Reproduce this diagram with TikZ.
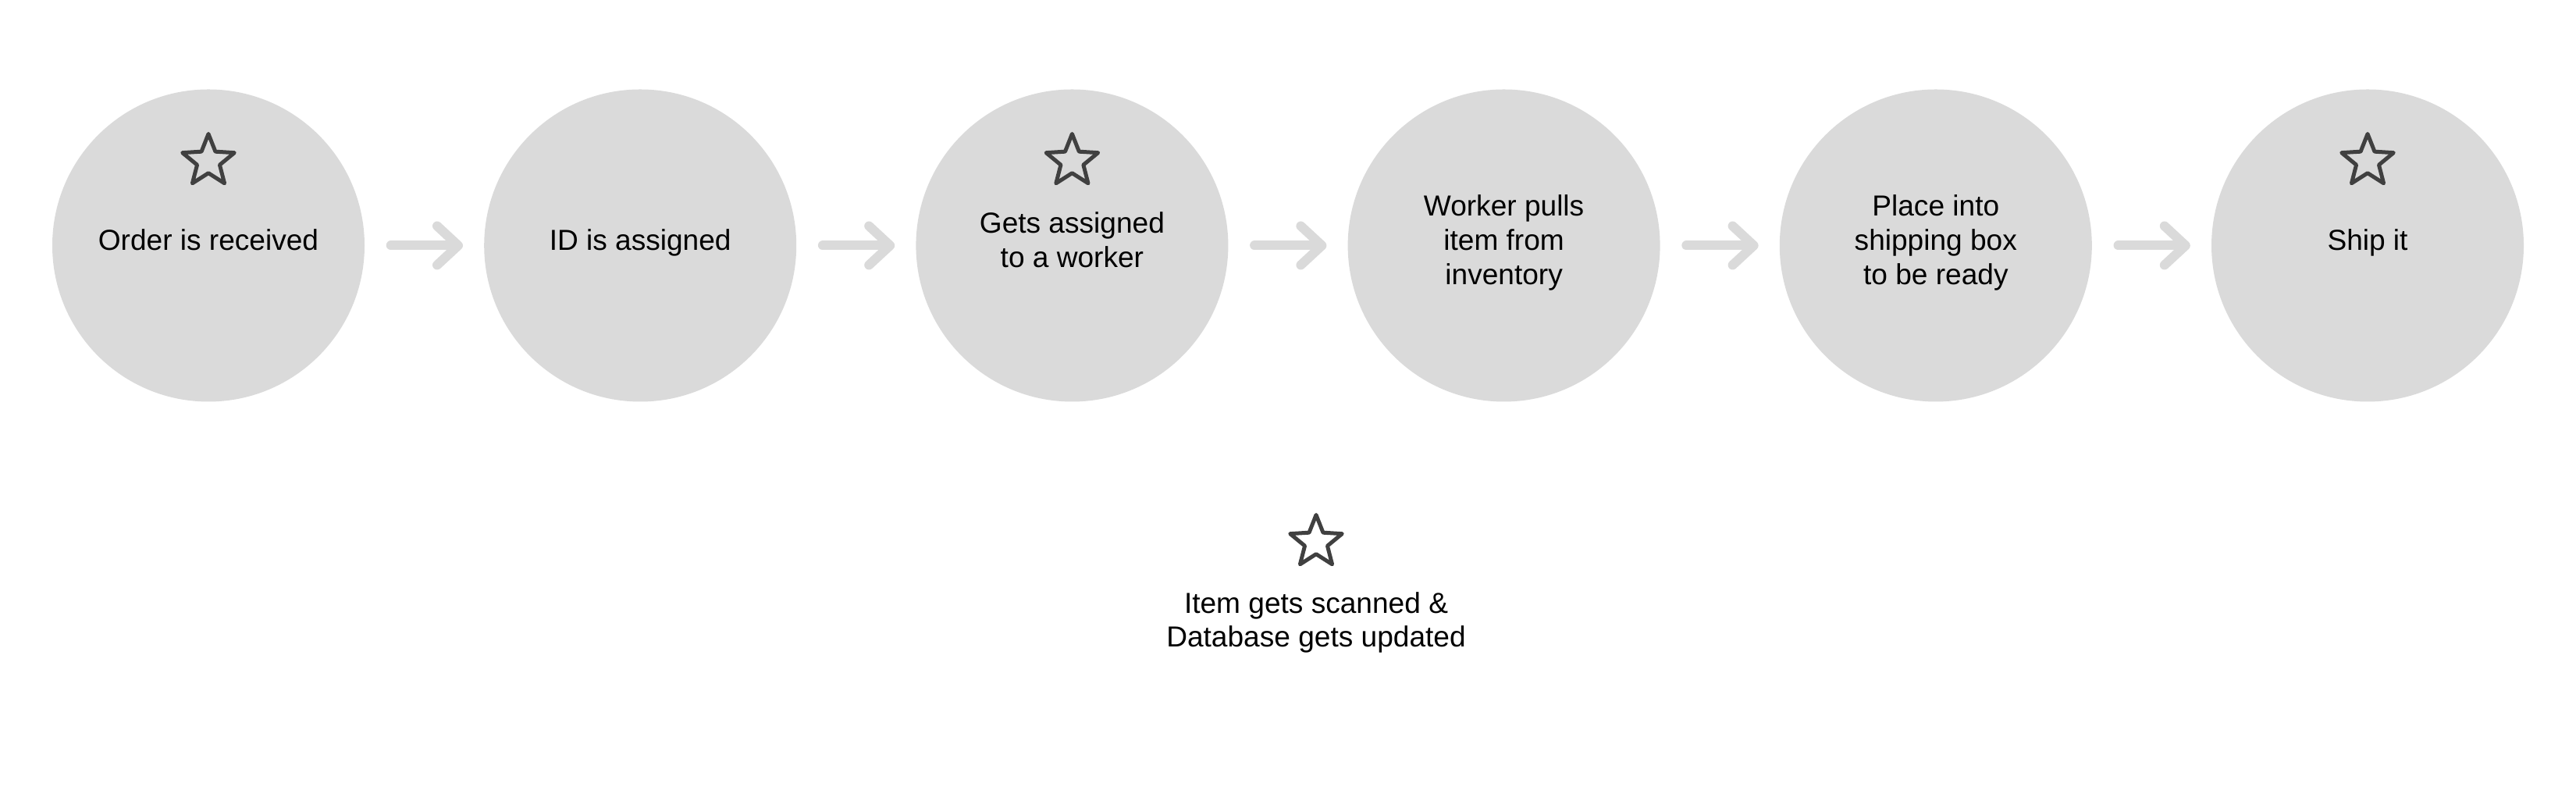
\documentclass[tikz,border=0pt]{standalone}
\usepackage{fontspec}
\setmainfont{Liberation Sans}
\usetikzlibrary{shapes.geometric,arrows.meta}
\definecolor{stepgray}{HTML}{DADADA}
\definecolor{stardark}{HTML}{404040}
\newcommand\lnstrut{\rule[-0.145cm]{0pt}{0.295cm}}

\begin{document}
\begin{tikzpicture}[stepcircle/.style={circle,fill=stepgray,draw=none,inner sep=0pt,minimum size=4cm,
                                       align=center,font=\fontsize{10.55}{12.52}\selectfont},
                    steptext/.style={align=center,inner sep=0pt,font=\fontsize{10.55}{12.3}\selectfont},
                    starmark/.style={star,star points=5,star point ratio=2.3,draw=stardark,line width=0.05cm,
                                     line join=round,inner sep=0pt,minimum size=0.7cm},
                    flow/.style={draw=stepgray,line width=0.12cm,line cap=round,
                                 -{Straight Barb[length=0.27cm,width=0.5cm,round]},
                                 shorten <=0.33cm,shorten >=0.265cm}]
    \useasboundingbox (0,0) rectangle (33,10.17);
    % steps
    \node (order)  at (2.67,7.025)   [stepcircle] {\lnstrut Order is received};
    \node (id)     at (8.202,7.025)  [stepcircle] {\lnstrut ID is assigned};
    \node (worker) at (13.734,7.025) [stepcircle] {\lnstrut Gets assigned\\\lnstrut to a worker};
    \node (pull)   at (19.266,7.025) [stepcircle] {\lnstrut Worker pulls\\\lnstrut item from\\\lnstrut inventory};
    \node (box)    at (24.798,7.025) [stepcircle] {\lnstrut Place into\\\lnstrut shipping box\\\lnstrut to be ready};
    \node (ship)   at (30.33,7.025)  [stepcircle] {\lnstrut Ship it};
    % marked steps
    \node (orderstar)  at ([yshift=1.08cm]order.center)  [starmark] {};
    \node (workerstar) at ([yshift=1.08cm]worker.center) [starmark] {};
    \node (shipstar)   at ([yshift=1.08cm]ship.center)   [starmark] {};
    \node (scanstar)   at (16.86,3.225) [starmark] {};
    \node (scan)       at (16.86,2.165) [steptext] {\lnstrut Item gets scanned \&\\\lnstrut Database gets updated};
    % flow
    \draw [flow] (order) -- (id);
    \draw [flow] (id) -- (worker);
    \draw [flow] (worker) -- (pull);
    \draw [flow] (pull) -- (box);
    \draw [flow] (box) -- (ship);
\end{tikzpicture}
\end{document}
